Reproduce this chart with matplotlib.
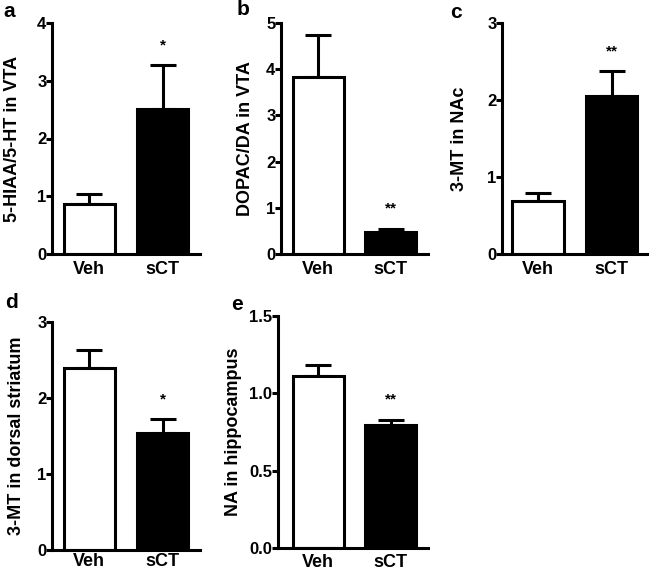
import numpy as np
import matplotlib
matplotlib.use('Agg')
import matplotlib.pyplot as plt
from matplotlib.ticker import FormatStrFormatter

plt.rcParams['font.family'] = ['Liberation Sans', 'DejaVu Sans']
plt.rcParams['font.weight'] = 'bold'

groups = ['Veh', 'sCT']

# mean and SEM per panel
means_a = [0.87, 2.51]
sems_a = [0.17, 0.76]
means_b = [3.83, 0.47]
sems_b = [0.90, 0.08]
means_c = [0.69, 2.05]
sems_c = [0.10, 0.33]
means_d = [2.39, 1.54]
sems_d = [0.24, 0.18]
means_e = [1.11, 0.795]
sems_e = [0.07, 0.035]

stars_a = ['', '*']
stars_b = ['', '**']
stars_c = ['', '**']
stars_d = ['', '*']
stars_e = ['', '**']

ylabels = ['5-HIAA/5-HT in VTA', 'DOPAC/DA in VTA', '3-MT in NAc',
           '3-MT in dorsal striatum', 'NA in hippocampus']
panel_letters = ['a', 'b', 'c', 'd', 'e']

W, H = 649, 571
fig = plt.figure(figsize=(W / 100, H / 100), dpi=100)

# pixel layout: left, right, top, bottom of each axes, plus label spots
layout = [
    dict(l=52, r=200, t=23, b=254, ymax=4, step=1, fmt='%d', xl=-0.51, lab=(9, 17), ylx=13, pad=5),
    dict(l=281, r=428, t=23, b=254, ymax=5, step=1, fmt='%d', xl=-0.51, lab=(243, 15), ylx=245, pad=5),
    dict(l=502, r=649, t=23, b=254, ymax=3, step=1, fmt='%d', xl=-0.49, lab=(456, 18), ylx=459, pad=5),
    dict(l=52, r=200, t=322, b=550, ymax=3, step=1, fmt='%d', xl=-0.51, lab=(11, 308), ylx=17, pad=2),
    dict(l=278, r=428, t=316, b=548, ymax=1.5, step=0.5, fmt='%.1f', xl=-0.55, lab=(237, 310), ylx=234, pad=4),
]

all_means = [means_a, means_b, means_c, means_d, means_e]
all_sems = [sems_a, sems_b, sems_c, sems_d, sems_e]
all_stars = [stars_a, stars_b, stars_c, stars_d, stars_e]

x = np.arange(len(groups))
lw = 2.2

for i, L in enumerate(layout):
    ax = fig.add_axes([L['l'] / W, 1 - L['b'] / H, (L['r'] - L['l']) / W, (L['b'] - L['t']) / H])
    m = all_means[i]
    s = all_sems[i]
    ax.errorbar(x, m, yerr=[np.zeros(len(s)), s], fmt='none', ecolor='black',
                elinewidth=lw, capsize=9.4, capthick=lw, zorder=1)
    ax.bar(x, m, width=0.7, color=['white', 'black'], edgecolor='black',
           linewidth=lw, zorder=2)
    for j, st in enumerate(all_stars[i]):
        if st:
            ax.text(x[j], m[j] + s[j] + 0.085 * L['ymax'], st, ha='center', va='center',
                    fontsize=11, fontweight='bold')
    ax.set_ylim(0, L['ymax'])
    ax.set_xlim(L['xl'], 1.51)
    ax.set_yticks(np.arange(0, L['ymax'] + 1e-9, L['step']))
    ax.yaxis.set_major_formatter(FormatStrFormatter(L['fmt']))
    ax.set_xticks(x)
    ax.set_xticklabels(groups, fontsize=13, fontweight='bold')
    ax.tick_params(axis='x', length=0, pad=L['pad'])
    ax.tick_params(axis='y', length=4, width=lw, labelsize=12, pad=0)
    for lab in ax.get_yticklabels():
        lab.set_fontweight('bold')
    for sp in ['top', 'right']:
        ax.spines[sp].set_visible(False)
    for sp in ['left', 'bottom']:
        ax.spines[sp].set_linewidth(lw)
    ax.set_ylabel(ylabels[i], fontsize=13, fontweight='bold', va='center')
    ax.yaxis.set_label_coords((L['ylx'] - L['l']) / (L['r'] - L['l']), 0.5)
    fig.text(L['lab'][0] / W, 1 - L['lab'][1] / H, panel_letters[i], fontsize=15,
             fontweight='bold', ha='center', va='baseline')

fig.savefig('out.png', dpi=100)
